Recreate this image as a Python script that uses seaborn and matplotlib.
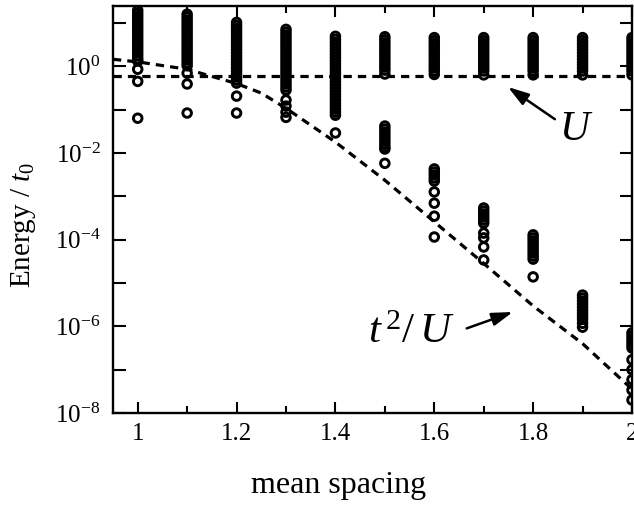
import numpy as np
import pandas as pd
import matplotlib
matplotlib.use("Agg")
import matplotlib.pyplot as plt
from matplotlib.ticker import FixedLocator, FuncFormatter, MultipleLocator, NullLocator
import seaborn as sns

# ---------------- data (log10 of Energy / t0) ----------------
spacing = [1.0, 1.1, 1.2, 1.3, 1.4, 1.5, 1.6, 1.7, 1.8, 1.9, 2.0]

levels_100 = [1.29, 1.22, 1.15, 1.08, 1.01, 0.94, 0.87, 0.80, 0.73, 0.66, 0.59, 0.52,
              0.45, 0.38, 0.31, 0.24, 0.17, 0.12, -0.07, -0.35, -1.20]
levels_110 = [1.20, 1.13, 1.06, 0.99, 0.92, 0.85, 0.78, 0.71, 0.64, 0.57, 0.50, 0.43,
              0.36, 0.29, 0.22, 0.15, 0.08, 0.01, -0.16, -0.41, -1.08]
levels_120 = [1.01, 0.94, 0.87, 0.80, 0.73, 0.66, 0.59, 0.52, 0.45, 0.38, 0.31, 0.24,
              0.17, 0.10, 0.03, -0.04, -0.11, -0.18, -0.25, -0.32, -0.39, -0.69, -1.08]
levels_130 = [0.85, 0.78, 0.71, 0.64, 0.57, 0.50, 0.43, 0.36, 0.29, 0.22, 0.15, 0.08,
              0.01, -0.06, -0.13, -0.20, -0.27, -0.34, -0.41, -0.48, -0.55,
              -0.78, -0.92, -1.06, -1.18]
levels_140 = [0.69, 0.62, 0.55, 0.48, 0.41, 0.34, 0.27, 0.20, 0.13, 0.06, -0.01, -0.08,
              -0.15, -0.22, -0.29, -0.36, -0.43, -0.50, -0.57, -0.64, -0.71, -0.78,
              -0.85, -0.92, -0.99, -1.06, -1.13, -1.54]
levels_150 = [0.68, 0.61, 0.54, 0.47, 0.40, 0.33, 0.26, 0.19, 0.12, 0.05, -0.02, -0.09,
              -0.18, -1.38, -1.45, -1.52, -1.59, -1.66, -1.73, -1.80, -1.87, -1.91, -2.24]
levels_160 = [0.66, 0.59, 0.52, 0.45, 0.38, 0.31, 0.24, 0.17, 0.10, 0.03, -0.04, -0.11,
              -0.19, -2.37, -2.44, -2.51, -2.58, -2.65, -2.90, -3.16, -3.46, -3.94]
levels_170 = [0.66, 0.59, 0.52, 0.45, 0.38, 0.31, 0.24, 0.17, 0.10, 0.03, -0.04, -0.11,
              -0.20, -3.27, -3.34, -3.41, -3.48, -3.55, -3.62, -3.85, -3.96, -4.17, -4.47]
levels_180 = [0.66, 0.59, 0.52, 0.45, 0.38, 0.31, 0.24, 0.17, 0.10, 0.03, -0.04, -0.11,
              -0.20, -3.89, -3.96, -4.03, -4.10, -4.17, -4.24, -4.31, -4.38, -4.45, -4.86]
levels_190 = [0.66, 0.59, 0.52, 0.45, 0.38, 0.31, 0.24, 0.17, 0.10, 0.03, -0.04, -0.11,
              -0.20, -5.28, -5.35, -5.42, -5.49, -5.56, -5.63, -5.70, -5.77, -5.84,
              -5.93, -6.02]
levels_200 = [0.66, 0.59, 0.52, 0.45, 0.38, 0.31, 0.24, 0.17, 0.10, 0.03, -0.04, -0.11,
              -0.20, -6.15, -6.22, -6.29, -6.36, -6.43, -6.50, -6.77, -7.00, -7.23,
              -7.47, -7.70]

all_levels = [levels_100, levels_110, levels_120, levels_130, levels_140, levels_150,
              levels_160, levels_170, levels_180, levels_190, levels_200]

# Hubbard U (horizontal dashed) and t^2/U (dashed curve), log10 values
u_x = [0.95, 2.0]
u_log = [-0.23, -0.23]
t2u_x = [0.95, 1.0, 1.1, 1.2, 1.25, 1.3, 1.4, 1.5, 1.6, 1.7, 1.8, 1.9, 2.0]
t2u_log = [0.16, 0.10, -0.07, -0.40, -0.62, -0.97, -1.75, -2.63, -3.59, -4.55, -5.53,
           -6.40, -7.45]

x_ticks = [1.0, 1.2, 1.4, 1.6, 1.8, 2.0]
x_tick_labels = ["1", "1.2", "1.4", "1.6", "1.8", "2"]
y_tick_exps = list(range(-8, 2))
y_label_exps = [-8, -6, -4, -2, 0]

# ---------------- style ----------------
sns.set_theme(style="ticks")
plt.rcParams.update({
    "font.family": ["Liberation Serif", "DejaVu Serif"],
    "mathtext.fontset": "custom",
    "mathtext.rm": "Liberation Serif",
    "mathtext.it": "Liberation Serif:italic",
    "mathtext.bf": "Liberation Serif:bold",
    "axes.edgecolor": "black",
    "xtick.color": "black",
    "ytick.color": "black",
    "text.color": "black",
    "axes.labelcolor": "black",
})

W, H = 634, 514
fig = plt.figure(figsize=(W / 100, H / 100), dpi=100)
fig.patch.set_facecolor("white")
L, R, T, B = 113, 632, 6, 413
ax = fig.add_axes([L / W, 1 - B / H, (R - L) / W, (B - T) / H])

df = pd.DataFrame({
    "spacing": np.repeat(spacing, [len(v) for v in all_levels]),
    "energy": 10.0 ** np.concatenate([np.array(v, dtype=float) for v in all_levels]),
})

sns.scatterplot(data=df, x="spacing", y="energy", ax=ax, marker="o", s=38,
                facecolor="none", edgecolor="black", linewidth=2.1,
                legend=False, zorder=3)

sns.lineplot(x=u_x, y=10.0 ** np.array(u_log), ax=ax, color="black", lw=2.3,
             zorder=2)
sns.lineplot(x=t2u_x, y=10.0 ** np.array(t2u_log), ax=ax, color="black", lw=2.3,
             zorder=2, sort=False)
for ln in ax.lines:
    ln.set_dashes([2.6, 1.9])
    ln.set_dash_capstyle("butt")

ax.set_yscale("log")
ax.set_xlim(0.95, 2.0)
ax.set_ylim(1e-8, 24.5)

ax.yaxis.set_major_locator(FixedLocator([10.0 ** e for e in y_tick_exps]))
ax.yaxis.set_minor_locator(NullLocator())


def ylab(v, pos):
    e = int(round(np.log10(v)))
    return f"$10^{{{e}}}$" if e in y_label_exps else ""


ax.yaxis.set_major_formatter(FuncFormatter(ylab))
ax.xaxis.set_major_locator(FixedLocator(x_ticks))
ax.set_xticklabels(x_tick_labels)
ax.xaxis.set_minor_locator(MultipleLocator(0.1))

ax.tick_params(which="both", direction="in", top=True, right=True, width=1.5,
               labelsize=18)
ax.tick_params(axis="x", which="major", length=8, pad=7)
ax.tick_params(axis="x", which="minor", length=5)
ax.tick_params(axis="y", which="major", length=9, pad=9)
for s in ax.spines.values():
    s.set_linewidth(1.7)
    s.set_color("black")

ax.set_xlabel("mean spacing", fontsize=23)
ax.set_ylabel("Energy / $t_0$", fontsize=21)
ax.xaxis.set_label_coords(0.435, -0.143)
ax.yaxis.set_label_coords(-0.145, 0.462)

arrow_kw = dict(arrowstyle="-|>,head_length=0.7,head_width=0.22", color="black",
                lw=1.8, mutation_scale=18, shrinkB=0)
ax.annotate("$U$", xy=(1.749, 10 ** -0.48), xytext=(1.853, 10 ** -1.47),
            ha="left", va="center", fontsize=30,
            arrowprops=dict(arrow_kw, shrinkA=1, relpos=(0.0, 0.7)))
ax.annotate("$t^{\\,2}/\\,U$", xy=(1.759, 10 ** -5.67), xytext=(1.553, 10 ** -6.15),
            ha="center", va="center", fontsize=31,
            arrowprops=dict(arrow_kw, shrinkA=7, relpos=(1.0, 0.5)))

fig.savefig("out.png", dpi=100, facecolor="white")
